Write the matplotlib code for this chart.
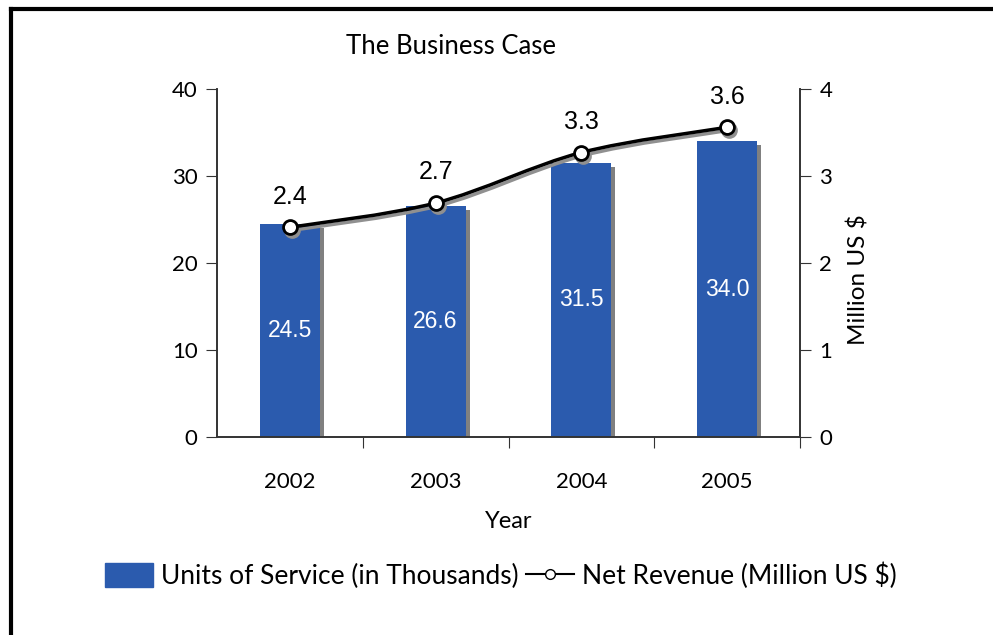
import matplotlib.pyplot as plt
import matplotlib.transforms as mtransforms
import matplotlib.patheffects as pe
from matplotlib.path import Path
from matplotlib.patches import PathPatch
from matplotlib.lines import Line2D
import numpy as np

years = ['2002', '2003', '2004', '2005']
units = [24.5, 26.6, 31.5, 34.0]
revenue = [2.41, 2.69, 3.27, 3.56]

blue = '#2B5BAE'
gs = 'Lato'

fig = plt.figure(figsize=(9.93, 6.35), dpi=100)
ax = fig.add_axes([217/993, 1-437/635, (800-217)/993, (437-89)/635])
ax2 = ax.twinx()

x = np.arange(len(years))
bars = ax.bar(x, units, width=0.41, color=blue, zorder=2,
              path_effects=[pe.SimplePatchShadow(offset=(3, -3), shadow_rgbFace='#808080', alpha=1.0), pe.Normal()])
for xi, v in zip(x, units):
    ax.text(xi, v/2, '%.1f' % v, color='white', ha='center', va='center',
            fontsize=16.5, family='Liberation Sans', zorder=3)

ax.set_xlim(-0.5, 3.5)
ax.set_ylim(0, 40)
ax.set_yticks([0, 10, 20, 30, 40])
ax.set_xticks([0.5, 1.5, 2.5, 3.5], minor=False)
ax.set_xticklabels([])
ax.set_xticks(x, minor=True)
ax.set_xticklabels(years, minor=True)
ax.tick_params(axis='x', which='major', length=8, direction='out', color='#333333')
ax.tick_params(axis='x', which='minor', length=0, pad=25, labelsize=16)
ax.tick_params(axis='y', length=8, direction='out', labelsize=16, color='#333333', pad=6)
for t in ax.get_xticklabels(which='minor') + ax.get_yticklabels():
    t.set_family(gs)
ax.set_xlabel('Year', family=gs, fontsize=17, labelpad=14)

ax2.set_ylim(0, 4)
ax2.set_yticks([0, 1, 2, 3, 4])
ax2.tick_params(axis='y', length=8, direction='out', labelsize=16, color='#333333', pad=6)
for t in ax2.get_yticklabels():
    t.set_family(gs)
ax2.set_ylabel('Million US $', family=gs, fontsize=17.5, va='center')
ax2.yaxis.set_label_coords((858-217)/583, (437-280)/348)

for a in (ax, ax2):
    a.spines['top'].set_visible(False)
    for s in ('left', 'right', 'bottom'):
        a.spines[s].set_color('#333333')
        a.spines[s].set_linewidth(1.2)

# smoothed revenue line (Bezier through the data points)
pts = list(zip(x.astype(float), revenue))
verts = [pts[0]]
codes = [Path.MOVETO]
for i in range(len(pts) - 1):
    p0 = np.array(pts[i-1] if i > 0 else pts[i])
    p1 = np.array(pts[i])
    p2 = np.array(pts[i+1])
    p3 = np.array(pts[i+2] if i + 2 < len(pts) else pts[i+1])
    c1 = p1 + (p2 - p0) / 6
    c2 = p2 - (p3 - p1) / 6
    verts += [tuple(c1), tuple(c2), tuple(p2)]
    codes += [Path.CURVE4] * 3
path = Path(verts, codes)
shadow_tr = mtransforms.offset_copy(ax2.transData, fig=fig, x=2, y=-3, units='dots')
ax2.add_patch(PathPatch(path, fc='none', ec='#909090', lw=2.5, transform=shadow_tr, zorder=3))
ax2.add_patch(PathPatch(path, fc='none', ec='black', lw=2.5, zorder=4))
ax2.plot(x, revenue, 'o', ms=11, mfc='#909090', mec='#909090', transform=shadow_tr, zorder=3)
ax2.plot(x, revenue, 'o', ms=10, mfc='white', mec='black', mew=2, zorder=5)
for xi, v in zip(x, revenue):
    ax2.annotate('%.1f' % v, (xi, v), xytext=(0, 22), textcoords='offset points',
                 ha='center', va='center', fontsize=18, family='Liberation Sans')

fig.text(451/993, 1-47/635, 'The Business Case', ha='center', va='center', family=gs, fontsize=18.5)

handles = [plt.Rectangle((0, 0), 1, 1, color=blue),
           Line2D([], [], color='black', lw=1.5, marker='o', ms=7, mfc='white', mec='black')]
fig.legend(handles, ['Units of Service (in Thousands)', 'Net Revenue (Million US $)'],
           loc='center', bbox_to_anchor=(501/993, 1-576/635), ncol=2, frameon=False,
           prop={'family': gs, 'size': 19}, handlelength=1.8, handleheight=1.0,
           handletextpad=0.3, columnspacing=0.3)

fig.add_artist(Line2D([11/993, 11/993], [0, 1-9/635], color='black', lw=3, transform=fig.transFigure))
fig.add_artist(Line2D([11/993, 1], [1-9/635, 1-9/635], color='black', lw=3, transform=fig.transFigure))

fig.savefig('out.png', dpi=100)
